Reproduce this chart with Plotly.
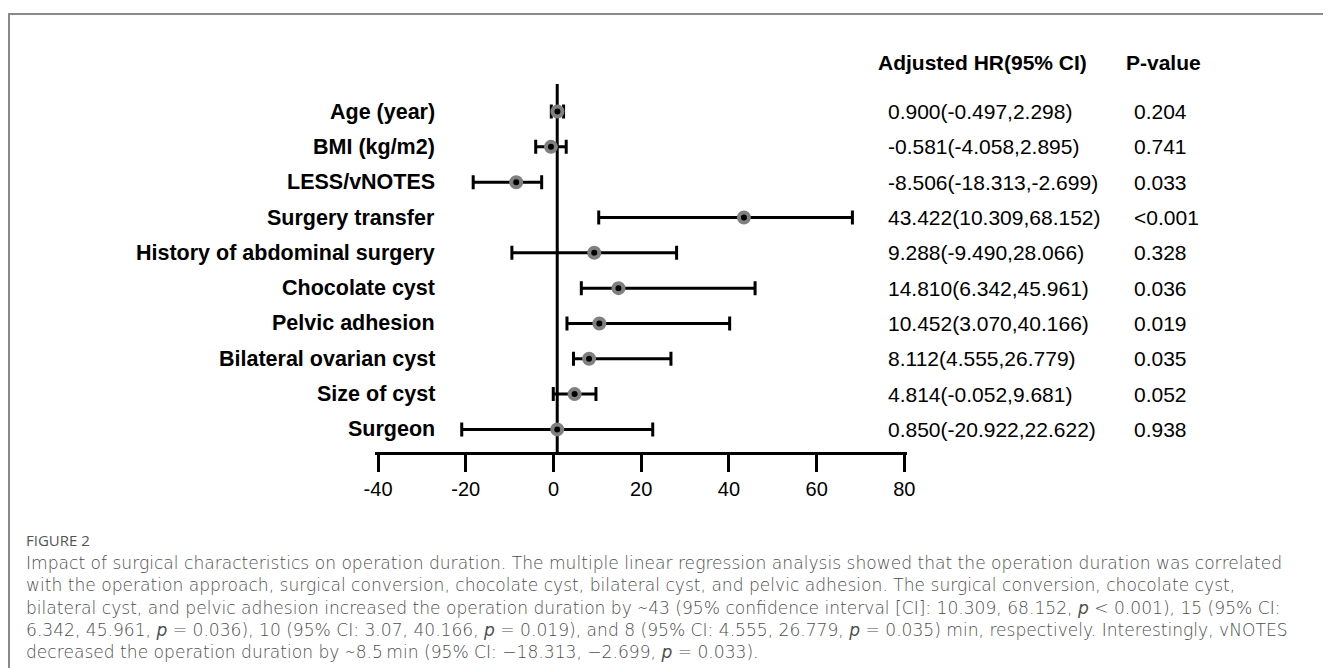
import plotly.graph_objects as go

# ---------------- data ----------------
variables = ["Age (year)", "BMI (kg/m2)", "LESS/vNOTES", "Surgery transfer",
             "History of abdominal surgery", "Chocolate cyst", "Pelvic adhesion",
             "Bilateral ovarian cyst", "Size of cyst", "Surgeon"]
estimate = [0.900, -0.581, -8.506, 43.422, 9.288, 14.810, 10.452, 8.112, 4.814, 0.850]
ci_lower = [-0.497, -4.058, -18.313, 10.309, -9.490, 6.342, 3.070, 4.555, -0.052, -20.922]
ci_upper = [2.298, 2.895, -2.699, 68.152, 28.066, 45.961, 40.166, 26.779, 9.681, 22.622]
p_values = ["0.204", "0.741", "0.033", "<0.001", "0.328", "0.036", "0.019", "0.035", "0.052", "0.938"]
x_ticks = [-40, -20, 0, 20, 40, 60, 80]
reference_value = 0.85
header_ci = "Adjusted HR(95% CI)"
header_p = "P-value"
caption_title = "FIGURE 2"
caption_lines = [
    "Impact of surgical characteristics on operation duration. The multiple linear regression analysis showed that the operation duration was correlated",
    "with the operation approach, surgical conversion, chocolate cyst, bilateral cyst, and pelvic adhesion. The surgical conversion, chocolate cyst,",
    "bilateral cyst, and pelvic adhesion increased the operation duration by \u223c43 (95% confidence interval [CI]: 10.309, 68.152, <i>p</i> &lt; 0.001), 15 (95% CI:",
    "6.342, 45.961, <i>p</i> = 0.036), 10 (95% CI: 3.07, 40.166, <i>p</i> = 0.019), and 8 (95% CI: 4.555, 26.779, <i>p</i> = 0.035) min, respectively. Interestingly, vNOTES",
    "decreased the operation duration by \u223c8.5\u2009min (95% CI: \u221218.313, \u22122.699, <i>p</i> = 0.033).",
]

# ---------------- layout geometry ----------------
# the page body adds an 8px margin, so targets are given in screen px and shifted
OFF = 8
W, H = 1331 - OFF, 668 - OFF
L, R, T, B = 375 - OFF, 907 - OFF, 84 - OFF, 452 - OFF
rows = list(range(len(variables)))


def px2x(px):
    return (px - OFF - L) / (R - L)


def py2y(py):
    return 1 - (py - OFF - T) / (B - T)


FONT = "Liberation Sans, Arial, sans-serif"
CAP_FONT = "DejaVu Sans, Open Sans, sans-serif"

fig = go.Figure()

fig.add_trace(go.Scatter(
    x=estimate, y=rows, mode="markers",
    error_x=dict(type="data", symmetric=False,
                 array=[u - e for u, e in zip(ci_upper, estimate)],
                 arrayminus=[e - l for e, l in zip(estimate, ci_lower)],
                 thickness=3, width=7, color="black"),
    marker=dict(size=10, color="black", line=dict(color="#808080", width=4)),
    showlegend=False, hoverinfo="skip",
))

# reference vertical line
fig.add_shape(type="line", xref="x", yref="paper", x0=reference_value, x1=reference_value,
              y0=0, y1=1, line=dict(color="black", width=3), layer="below")

annotations = []
for i, (name, e, lo, up, p) in enumerate(zip(variables, estimate, ci_lower, ci_upper, p_values)):
    annotations.append(dict(xref="paper", yref="y", x=px2x(437), y=i, text="<b>%s</b>" % name,
                            xanchor="right", yanchor="middle", showarrow=False,
                            font=dict(family=FONT, size=21.5, color="black")))
    annotations.append(dict(xref="paper", yref="y", x=px2x(886), y=i,
                            text="%.3f(%.3f,%.3f)" % (e, lo, up),
                            xanchor="left", yanchor="middle", showarrow=False,
                            font=dict(family=FONT, size=21, color="black")))
    annotations.append(dict(xref="paper", yref="y", x=px2x(1132), y=i, text=p,
                            xanchor="left", yanchor="middle", showarrow=False,
                            font=dict(family=FONT, size=21, color="black")))

annotations.append(dict(xref="paper", yref="paper", x=px2x(876), y=py2y(63),
                        text="<b>%s</b>" % header_ci, xanchor="left", yanchor="middle",
                        showarrow=False, font=dict(family=FONT, size=21, color="black")))
annotations.append(dict(xref="paper", yref="paper", x=px2x(1124), y=py2y(63),
                        text="<b>%s</b>" % header_p, xanchor="left", yanchor="middle",
                        showarrow=False, font=dict(family=FONT, size=21, color="black")))

CAP_X = 24
annotations.append(dict(xref="paper", yref="paper", x=px2x(CAP_X), y=py2y(540),
                        text=caption_title, xanchor="left", yanchor="middle",
                        showarrow=False, font=dict(family="Open Sans, sans-serif", size=15, color="#555555")))
for k, line in enumerate(caption_lines):
    annotations.append(dict(xref="paper", yref="paper", x=px2x(CAP_X), y=py2y(563 + 22.3 * k),
                            text=line, xanchor="left", yanchor="middle",
                            showarrow=False,
                            font=dict(family=CAP_FONT, size=17.1, color="#4e4e4e", weight=300)))

# frame lines
shapes = [
    dict(type="line", xref="paper", yref="paper", x0=px2x(9), x1=px2x(1345),
         y0=py2y(14), y1=py2y(14), line=dict(color="#8a8a8a", width=2)),
    dict(type="line", xref="paper", yref="paper", x0=px2x(9), x1=px2x(9),
         y0=py2y(13), y1=py2y(690), line=dict(color="#8a8a8a", width=2)),
]
for s in shapes:
    fig.add_shape(**s)

fig.update_layout(
    width=W, height=H,
    margin=dict(l=L, r=W - R, t=T, b=H - B, pad=0),
    paper_bgcolor="white", plot_bgcolor="rgba(0,0,0,0)",
    annotations=annotations,
    xaxis=dict(range=[-40.7, 80.6], tickvals=x_ticks, ticktext=[str(t) for t in x_ticks],
               showgrid=False, zeroline=False, showline=True, linecolor="black", linewidth=3,
               ticks="outside", ticklen=17, tickwidth=3, tickcolor="black",
               tickfont=dict(family=FONT, size=20, color="black")),
    yaxis=dict(range=[9.64, -0.78], visible=False, showgrid=False, zeroline=False),
)

fig.write_html("out.html")
